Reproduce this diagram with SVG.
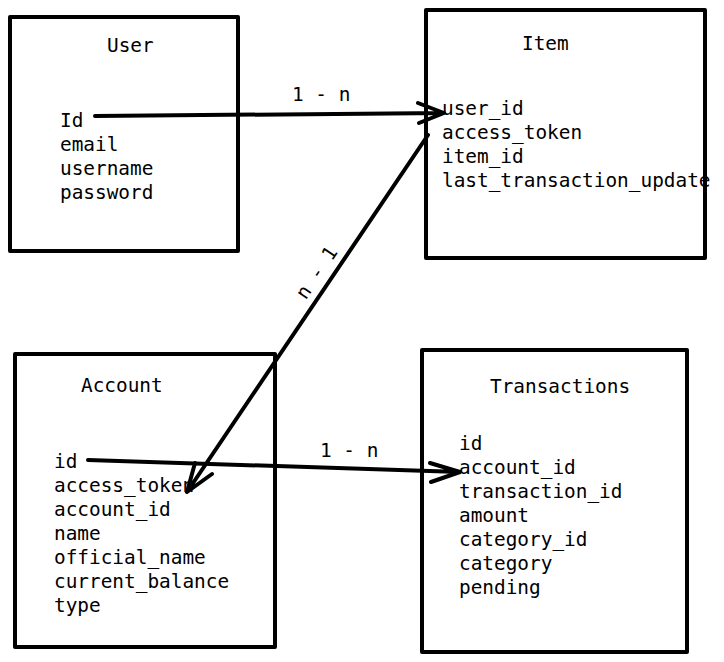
<svg xmlns="http://www.w3.org/2000/svg" width="724" height="662" viewBox="0 0 724 662">
<style>
.box{fill:#fff;stroke:#000;stroke-width:4;stroke-linejoin:round}
text{font-family:"DejaVu Sans Mono","Liberation Mono",monospace;font-size:19.4px;fill:#000}
.c{fill:none;stroke:#000;stroke-width:4;stroke-linecap:round;stroke-linejoin:round}
</style>
<rect width="724" height="662" fill="#fff"/>
<g id="user">
<rect class="box" x="10" y="17" width="228" height="234"/>
<text x="107" y="52">User</text>
<text x="60" y="127">Id</text>
<text x="60" y="151">email</text>
<text x="60" y="175">username</text>
<text x="60" y="199">password</text>
</g>
<g id="item">
<rect class="box" x="426" y="10" width="279" height="248"/>
<text x="522" y="50">Item</text>
<text x="442" y="115">user_id</text>
<text x="442" y="139">access_token</text>
<text x="442" y="163">item_id</text>
<text x="442" y="187">last_transaction_update</text>
</g>
<g id="account">
<rect class="box" x="15" y="354" width="260" height="293"/>
<text x="81" y="392">Account</text>
<text x="54" y="468">id</text>
<text x="54" y="492">access_token</text>
<text x="54" y="516">account_id</text>
<text x="54" y="540">name</text>
<text x="54" y="564">official_name</text>
<text x="54" y="588">current_balance</text>
<text x="54" y="612">type</text>
</g>
<g id="transactions">
<rect class="box" x="422" y="350" width="265" height="302"/>
<text x="490" y="393">Transactions</text>
<text x="459" y="450">id</text>
<text x="459" y="474">account_id</text>
<text x="459" y="498">transaction_id</text>
<text x="459" y="522">amount</text>
<text x="459" y="546">category_id</text>
<text x="459" y="570">category</text>
<text x="459" y="594">pending</text>
</g>
<g id="connectors">
<path class="c" d="M95 116 L444 113 M418 103 L444 113 L419 123"/>
<text x="292" y="101">1 - n</text>
<path class="c" d="M428 135 L187 492 M195 463 L187 492 L212 474"/>
<text transform="translate(317 273) rotate(-56)" text-anchor="middle" dy="6">n - 1</text>
<path class="c" d="M88 460 L460 472 M430 463 L460 472 L431 482"/>
<text x="320" y="457">1 - n</text>
</g>
</svg>
